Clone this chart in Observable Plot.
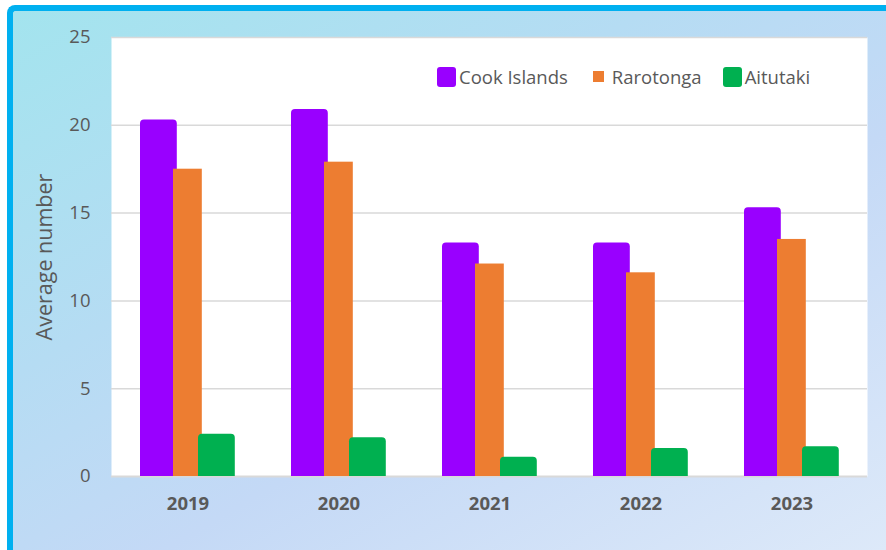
<!DOCTYPE html>
<html>
<head>
<meta charset="utf-8">
<script src="https://cdn.jsdelivr.net/npm/d3@7"></script>
<script src="https://cdn.jsdelivr.net/npm/@observablehq/plot@0.6"></script>
<style>
  html, body { margin: 0; padding: 0; background: #ffffff; width: 886px; height: 550px; overflow: hidden; }
  #frame {
    position: absolute; left: 7px; top: 5px; width: 873px; height: 539px;
    border-top: 6px solid #00B0F0; border-left: 6px solid #00B0F0;
    border-top-left-radius: 8px;
    background: linear-gradient(150deg, #a3e4ee 0%, #b5dcf3 35%, #c4d9f6 60%, #dde9f9 100%);
  }
  #chart { position: absolute; left: 0; top: 0; }
  #legend {
    position: absolute; left: 437px; top: 64px; display: flex; align-items: center;
    font-family: "Open Sans", sans-serif; font-size: 18.5px; color: #595959; white-space: nowrap;
  }
  #legend .item { display: flex; align-items: center; }
  #legend .sw { display: inline-block; }
</style>
</head>
<body>
<div id="frame"></div>
<div id="chart"></div>
<div id="legend"></div>
<script>
const years = ["2019", "2020", "2021", "2022", "2023"];
const seriesNames = ["Cook Islands", "Rarotonga", "Aitutaki"];
const cookIslands = [20.3, 20.9, 13.3, 13.3, 15.3];
const rarotonga = [17.5, 17.9, 12.1, 11.6, 13.5];
const aitutaki = [2.4, 2.2, 1.1, 1.6, 1.7];
const yTicks = [0, 5, 10, 15, 20, 25];
const colors = ["#9900FF", "#ED7D31", "#00B050"];

const rows = years.map((y, i) => ({year: y, cook: cookIslands[i], raro: rarotonga[i], aitu: aitutaki[i]}));

const chart = Plot.plot({
  width: 886,
  height: 550,
  marginLeft: 111,
  marginRight: 19,
  marginTop: 37,
  marginBottom: 74,
  style: {background: "transparent", fontFamily: "Open Sans, sans-serif", color: "#595959", overflow: "visible"},
  x: {domain: years, padding: 0, label: null},
  y: {domain: [0, 25], label: null},
  marks: [
    Plot.frame({fill: "white", stroke: null}),
    Plot.gridY(yTicks.slice(1), {stroke: "#d9d9d9", strokeOpacity: 1, strokeWidth: 1.5}),
    Plot.ruleY([0], {stroke: "#d9d9d9", strokeWidth: 2}),
    Plot.barY(rows, {x: "year", y: "cook", fill: colors[0], insetLeft: 28, insetRight: 86.2, ry1: 4}),
    Plot.barY(rows, {x: "year", y: "raro", fill: colors[1], insetLeft: 61, insetRight: 61.2}),
    Plot.barY(rows, {x: "year", y: "aitu", fill: colors[2], insetLeft: 86, insetRight: 28.2, ry1: 4}),
    Plot.axisX({tickSize: 0, tickPadding: 20, fontSize: 18.5, fontWeight: "bold", label: null}),
    Plot.axisY(yTicks, {tickSize: 0, tickPadding: 21, fontSize: 18.5, label: null}),
    Plot.axisY({ticks: [], tickSize: 0, fontSize: 21.5, label: "Average number", labelAnchor: "center", labelArrow: "none", labelOffset: 75})
  ]
});
document.getElementById("chart").appendChild(chart);

const legend = document.getElementById("legend");
const swatchSpec = [
  {w: 19, h: 20, r: 3, gap: 3, after: 25},
  {w: 11, h: 11, r: 0, gap: 8, after: 21},
  {w: 19, h: 20, r: 3, gap: 3, after: 0}
];
seriesNames.forEach((name, i) => {
  const s = swatchSpec[i];
  const item = document.createElement("div");
  item.className = "item";
  item.style.marginRight = s.after + "px";
  const sw = document.createElement("span");
  sw.className = "sw";
  sw.style.width = s.w + "px"; sw.style.height = s.h + "px";
  sw.style.borderRadius = s.r + "px";
  sw.style.background = colors[i];
  sw.style.marginRight = s.gap + "px";
  const t = document.createElement("span");
  t.textContent = name;
  item.appendChild(sw); item.appendChild(t);
  legend.appendChild(item);
});
</script>
</body>
</html>
